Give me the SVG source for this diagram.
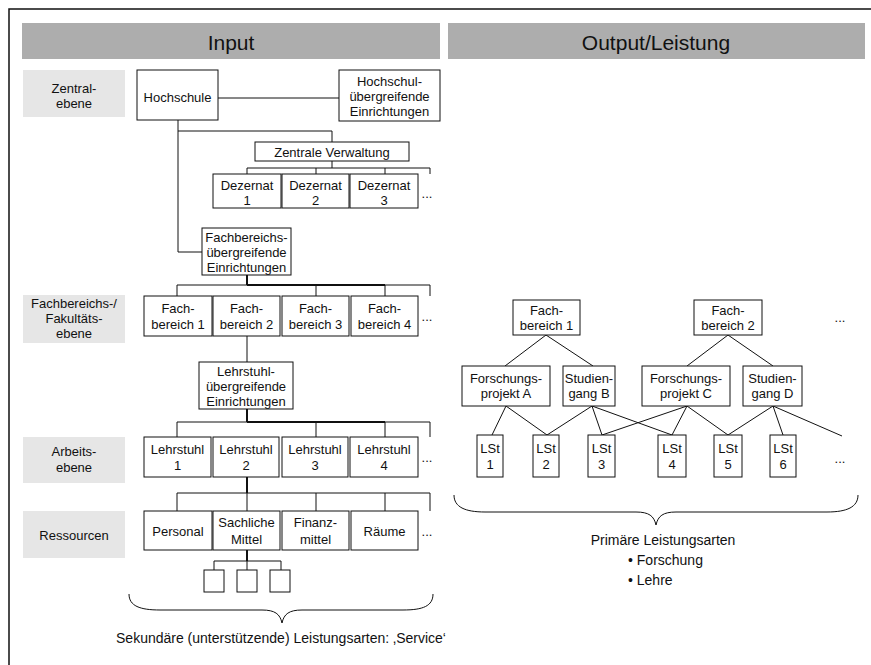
<svg xmlns="http://www.w3.org/2000/svg" width="871" height="665" viewBox="0 0 871 665">
<style>
text{font-family:"Liberation Sans",Arial,sans-serif;font-size:13px;fill:#111;text-anchor:middle}
.hd{fill:#adadad}
.hdt{font-size:21px}
.lbl{fill:#e6e6e6}
.box{fill:#fff;stroke:#111;stroke-width:1}
.ln{fill:none;stroke:#111;stroke-width:1}
.th{fill:none;stroke:#111;stroke-width:2}
.big{font-size:14px}
.st{text-anchor:start}
</style>
<rect x="0" y="0" width="871" height="665" fill="#fff"/>
<rect x="9" y="9" width="900" height="700" fill="none" stroke="#111" stroke-width="1.5"/>

<g id="header-input"><rect class="hd" x="22" y="23" width="418" height="36"/><text class="hdt" x="231" y="49.5">Input</text></g>
<g id="header-output"><rect class="hd" x="448" y="23" width="417" height="36"/><text class="hdt" x="656" y="49.5">Output/Leistung</text></g>

<g id="label-zentral"><rect class="lbl" x="23" y="70" width="102" height="47"/><text x="74" y="93">Zentral-</text><text x="74" y="107.5">ebene</text></g>
<g id="label-fakultaet"><rect class="lbl" x="23" y="295" width="102" height="48"/><text x="74" y="308">Fachbereichs-/</text><text x="74" y="323">Fakultäts-</text><text x="74" y="338">ebene</text></g>
<g id="label-arbeit"><rect class="lbl" x="23" y="437" width="102" height="46"/><text x="74" y="456">Arbeits-</text><text x="74" y="471.5">ebene</text></g>
<g id="label-ressourcen"><rect class="lbl" x="23" y="511" width="102" height="47"/><text x="74" y="539.5">Ressourcen</text></g>

<g id="connectors">
<path class="ln" d="M218,98H339"/>
<path class="ln" d="M178,120V252H202"/>
<path class="ln" d="M178,131H332V142"/>
<path class="ln" d="M332,161V168M247,168H430M247,168V174M316,168V174M385,168V174M430,168V174"/>
<path class="th" d="M247,275V285M247,285H385"/>
<path class="ln" d="M177,285H430M177,285V296M316,285V296M385,285V296M430,285V296"/>
<path class="ln" d="M247,336V362"/>
<path class="th" d="M247,409V422M247,422H385"/>
<path class="ln" d="M177,422H430M177,422V437M316,422V437M385,422V437M430,422V437"/>
<path class="th" d="M247,477V493"/>
<path class="ln" d="M177,493H430M177,493V511M247,493V511M316,493V511M385,493V511M430,493V511"/>
<path class="th" d="M247,550V561"/>
<path class="ln" d="M214,561H281M214,561V570M247,561V570M281,561V570"/>
<path class="ln" d="M546,335L505,366M546,335L593,366M728,335L687,366M728,335L773,366"/>
<path class="ln" d="M506,406L492,435M506,406L547,435"/>
<path class="ln" d="M592,406L547,435M592,406L602,435M592,406L672,435"/>
<path class="ln" d="M687,406L602,435M687,406L672,435M687,406L728,435"/>
<path class="ln" d="M773,406L728,435M773,406L783,435M773,406L842,436"/>
<path class="ln" d="M129,594C129,606 140,610 160,610L262,610C275,610 280,614 282,623C284,614 289,610 302,610L403,610C423,610 433,606 433,594"/>
<path class="ln" d="M454,495C454,507 465,512 485,512L636,512C649,512 654,516 656,525C658,516 663,512 676,512L827,512C847,512 858,507 858,495"/>
</g>

<g id="hochschule"><rect class="box" x="137" y="70" width="81" height="50"/><text x="177.5" y="102">Hochschule</text></g>
<g id="hochschul-uebergreifend"><rect class="box" x="339" y="70" width="101" height="51"/><text x="389.5" y="86">Hochschul-</text><text x="389.5" y="101">übergreifende</text><text x="389.5" y="116">Einrichtungen</text></g>
<g id="zentrale-verwaltung"><rect class="box" x="255" y="142" width="154" height="19"/><text x="332" y="156.5">Zentrale Verwaltung</text></g>
<g id="dezernat-1"><rect class="box" x="213" y="174" width="68" height="34"/><text x="247" y="189.5">Dezernat</text><text x="247" y="204.5">1</text></g>
<g id="dezernat-2"><rect class="box" x="282" y="174" width="67" height="34"/><text x="315.5" y="189.5">Dezernat</text><text x="315.5" y="204.5">2</text></g>
<g id="dezernat-3"><rect class="box" x="350" y="174" width="68" height="34"/><text x="384" y="189.5">Dezernat</text><text x="384" y="204.5">3</text></g>
<text x="427" y="198">...</text>

<g id="fachbereichs-uebergreifend"><rect class="box" x="202" y="228" width="89" height="47"/><text x="246.5" y="242">Fachbereichs-</text><text x="246.5" y="257">übergreifende</text><text x="246.5" y="272">Einrichtungen</text></g>
<g id="fachbereich-1"><rect class="box" x="144" y="296" width="68" height="40"/><text x="178" y="312.5">Fach-</text><text x="178" y="328.5">bereich 1</text></g>
<g id="fachbereich-2"><rect class="box" x="213" y="296" width="67" height="40"/><text x="246.5" y="312.5">Fach-</text><text x="246.5" y="328.5">bereich 2</text></g>
<g id="fachbereich-3"><rect class="box" x="282" y="296" width="67" height="40"/><text x="315.5" y="312.5">Fach-</text><text x="315.5" y="328.5">bereich 3</text></g>
<g id="fachbereich-4"><rect class="box" x="351" y="296" width="67" height="40"/><text x="384.5" y="312.5">Fach-</text><text x="384.5" y="328.5">bereich 4</text></g>
<text x="427" y="321">...</text>

<g id="lehrstuhl-uebergreifend"><rect class="box" x="199" y="362" width="94" height="47"/><text x="246" y="376">Lehrstuhl-</text><text x="246" y="391">übergreifende</text><text x="246" y="406">Einrichtungen</text></g>
<g id="lehrstuhl-1"><rect class="box" x="144" y="437" width="67" height="40"/><text x="177.5" y="454">Lehrstuhl</text><text x="177.5" y="469.5">1</text></g>
<g id="lehrstuhl-2"><rect class="box" x="213" y="437" width="66" height="40"/><text x="246" y="454">Lehrstuhl</text><text x="246" y="469.5">2</text></g>
<g id="lehrstuhl-3"><rect class="box" x="282" y="437" width="66" height="40"/><text x="315" y="454">Lehrstuhl</text><text x="315" y="469.5">3</text></g>
<g id="lehrstuhl-4"><rect class="box" x="350" y="437" width="68" height="40"/><text x="384" y="454">Lehrstuhl</text><text x="384" y="469.5">4</text></g>
<text x="427" y="462">...</text>

<g id="personal"><rect class="box" x="144" y="511" width="68" height="39"/><text x="178" y="536">Personal</text></g>
<g id="sachliche-mittel"><rect class="box" x="213" y="511" width="67" height="39"/><text x="246.5" y="527">Sachliche</text><text x="246.5" y="543.5">Mittel</text></g>
<g id="finanzmittel"><rect class="box" x="282" y="511" width="67" height="39"/><text x="315.5" y="527">Finanz-</text><text x="315.5" y="543.5">mittel</text></g>
<g id="raeume"><rect class="box" x="351" y="511" width="67" height="39"/><text x="384.5" y="536">Räume</text></g>
<text x="427" y="536">...</text>
<g id="mittel-1"><rect class="box" x="204" y="570" width="20" height="22"/></g>
<g id="mittel-2"><rect class="box" x="237" y="570" width="20" height="22"/></g>
<g id="mittel-3"><rect class="box" x="270" y="570" width="20" height="22"/></g>
<text class="big" x="281" y="643">Sekundäre (unterstützende) Leistungsarten: ‚Service‘</text>

<g id="out-fachbereich-1"><rect class="box" x="513" y="300" width="67" height="35"/><text x="546.5" y="315">Fach-</text><text x="546.5" y="329.5">bereich 1</text></g>
<g id="out-fachbereich-2"><rect class="box" x="694" y="300" width="68" height="35"/><text x="728" y="315">Fach-</text><text x="728" y="329.5">bereich 2</text></g>
<text x="840" y="322">...</text>
<g id="forschungsprojekt-a"><rect class="box" x="462" y="366" width="88" height="40"/><text x="506" y="383">Forschungs-</text><text x="506" y="398">projekt A</text></g>
<g id="studiengang-b"><rect class="box" x="563" y="366" width="52" height="40"/><text x="589" y="383">Studien-</text><text x="589" y="398">gang B</text></g>
<g id="forschungsprojekt-c"><rect class="box" x="642" y="366" width="88" height="40"/><text x="686" y="383">Forschungs-</text><text x="686" y="398">projekt C</text></g>
<g id="studiengang-d"><rect class="box" x="743" y="366" width="59" height="40"/><text x="772.5" y="383">Studien-</text><text x="772.5" y="398">gang D</text></g>
<g id="lst-1"><rect class="box" x="477" y="435" width="26" height="42"/><text x="490" y="453">LSt</text><text x="490" y="469">1</text></g>
<g id="lst-2"><rect class="box" x="533" y="435" width="26" height="42"/><text x="546" y="453">LSt</text><text x="546" y="469">2</text></g>
<g id="lst-3"><rect class="box" x="588" y="435" width="27" height="42"/><text x="601.5" y="453">LSt</text><text x="601.5" y="469">3</text></g>
<g id="lst-4"><rect class="box" x="658" y="435" width="28" height="42"/><text x="672" y="453">LSt</text><text x="672" y="469">4</text></g>
<g id="lst-5"><rect class="box" x="714" y="435" width="28" height="42"/><text x="728" y="453">LSt</text><text x="728" y="469">5</text></g>
<g id="lst-6"><rect class="box" x="770" y="435" width="26" height="42"/><text x="783" y="453">LSt</text><text x="783" y="469">6</text></g>
<text x="840" y="463">...</text>
<text class="big" x="663" y="545">Primäre Leistungsarten</text>
<text class="big st" x="628" y="565">• Forschung</text>
<text class="big st" x="628" y="585">• Lehre</text>
</svg>
